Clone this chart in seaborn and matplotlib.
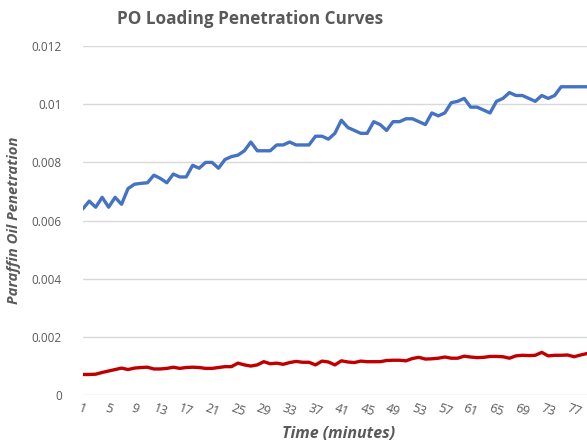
"""PO loading penetration curves, redrawn with seaborn."""
import matplotlib
matplotlib.use('Agg')
import matplotlib.pyplot as plt
import seaborn as sns
import pandas as pd

# time in minutes, one reading per minute
minutes = list(range(1, 80))

# paraffin oil penetration readings
blue_series = [
    0.0064, 0.00667, 0.00646, 0.0068, 0.00646, 0.0068, 0.00656, 0.0071, 0.00725, 0.00728,
    0.0073, 0.00756, 0.00745, 0.0073, 0.0076, 0.0075, 0.0075, 0.0079, 0.0078, 0.008,
    0.008, 0.0078, 0.0081, 0.0082, 0.00825, 0.0084, 0.0087, 0.0084, 0.0084, 0.0084,
    0.0086, 0.0086, 0.0087, 0.0086, 0.0086, 0.0086, 0.0089, 0.0089, 0.0088, 0.009,
    0.00945, 0.0092, 0.0091, 0.009, 0.009, 0.0094, 0.0093, 0.0091, 0.0094, 0.0094,
    0.0095, 0.0095, 0.0094, 0.0093, 0.0097, 0.0096, 0.0097, 0.01005, 0.0101, 0.0102,
    0.0099, 0.0099, 0.0098, 0.0097, 0.0101, 0.0102, 0.0104, 0.0103, 0.0103, 0.0102,
    0.0101, 0.0103, 0.0102, 0.0103, 0.0106, 0.0106, 0.0106, 0.0106, 0.0106,
]
red_series = [
    0.00071, 0.00071, 0.00072, 0.00078, 0.00083, 0.00088, 0.00093, 0.00088, 0.00093, 0.00095,
    0.00096, 0.0009, 0.0009, 0.00092, 0.00096, 0.00092, 0.00095, 0.00096, 0.00095, 0.00092,
    0.00092, 0.00095, 0.00098, 0.00098, 0.0011, 0.00104, 0.001, 0.00104, 0.00115, 0.00108,
    0.0011, 0.00106, 0.00112, 0.00116, 0.00113, 0.00113, 0.00104, 0.00117, 0.00114, 0.00104,
    0.00118, 0.00114, 0.00112, 0.00117, 0.00115, 0.00115, 0.00115, 0.00119, 0.0012, 0.0012,
    0.00118, 0.00126, 0.0013, 0.00124, 0.00125, 0.00127, 0.00131, 0.00127, 0.00127, 0.00134,
    0.00131, 0.00129, 0.0013, 0.00133, 0.00133, 0.00132, 0.00127, 0.00135, 0.00137, 0.00136,
    0.00137, 0.00147, 0.00135, 0.00137, 0.00137, 0.00138, 0.00132, 0.00138, 0.00143,
]

x_ticks = list(range(1, 80, 4))
y_ticks = [0, 0.002, 0.004, 0.006, 0.008, 0.01, 0.012]
y_tick_labels = ['0', '0.002', '0.004', '0.006', '0.008', '0.01', '0.012']

sns.set_style('white')
plt.rcParams['font.family'] = ['Open Sans', 'DejaVu Sans']

text_grey = '#595959'

fig = plt.figure(figsize=(5.87, 4.47), dpi=100)
ax = fig.add_axes([0.141, 0.116, 0.87, 0.781])

df = pd.DataFrame({'minute': minutes, 'blue': blue_series, 'red': red_series})
sns.lineplot(data=df, x='minute', y='blue', color='#4472C4', linewidth=2.4, ax=ax)
sns.lineplot(data=df, x='minute', y='red', color='#C00000', linewidth=2.4, ax=ax)

ax.set_xlim(1, 80)
ax.set_ylim(0, 0.012)
ax.set_yticks(y_ticks)
ax.set_yticklabels(y_tick_labels)
ax.set_xticks(x_ticks)
ax.set_xticklabels([str(t) for t in x_ticks], rotation=-20, ha='center')
ax.tick_params(axis='x', length=0, labelsize=9, colors=text_grey, pad=5)
ax.tick_params(axis='y', length=0, labelsize=8.5, colors=text_grey, pad=15)

ax.grid(axis='y', color='#D9D9D9', linewidth=1)
ax.set_axisbelow(True)
for spine in ax.spines.values():
    spine.set_visible(False)

ax.set_xlabel('Time (minutes)', fontsize=11.5, fontweight='bold', style='italic',
              color=text_grey, labelpad=5)
ax.set_ylabel('Paraffin Oil Penetration', fontsize=10.7, fontweight='bold', style='italic',
              color=text_grey, labelpad=8)

fig.text(0.426, 0.958, 'PO Loading Penetration Curves', fontsize=12.3, fontweight='bold',
         color=text_grey, ha='center', va='center')

fig.savefig('out.png', dpi=100)
